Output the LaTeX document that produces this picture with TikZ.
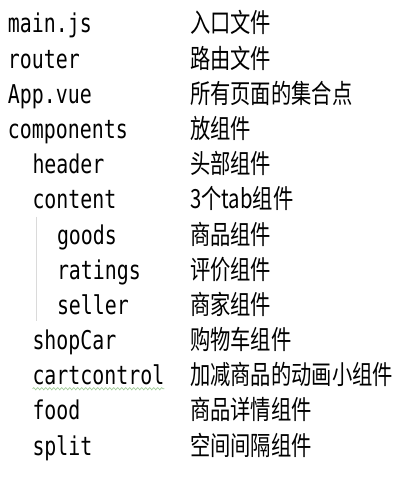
\documentclass[tikz,border=0pt]{standalone}
\usepackage{fontspec}
\usepackage{graphicx}
\setmonofont{DejaVu Sans Mono}
\newfontfamily\cjk{Noto Sans CJK SC}
\usetikzlibrary{positioning, decorations.pathmorphing, backgrounds}
\definecolor{guidegray}{HTML}{DADADA}
\definecolor{squiggle}{HTML}{A4CE9C}
\newcommand\tallmono[1]{\scalebox{1}[1.3]{\fontsize{19.9}{20}\ttfamily #1}}
\newcommand\tallcjk[1]{\scalebox{1}[1.3]{\fontsize{20.3}{20}\cjk #1}}
\tikzset{
  filename/.style={anchor=base west, inner sep=0pt, outer sep=0pt},
  filedesc/.style={anchor=base west, inner sep=0pt, outer sep=0pt},
}

\begin{document}
\begin{tikzpicture}[x=1pt,y=1pt,background rectangle/.style={fill=white},show background rectangle]
  \useasboundingbox (0,0) rectangle (400,500);
  % one row per file: name / indent level / description
  \foreach \fname/\lvl/\desc [count=\i from 0] in {
      main.js/0/入口文件,
      router/0/路由文件,
      App.vue/0/所有页面的集合点,
      components/0/放组件,
      header/1/头部组件,
      content/1/3个tab组件,
      goods/2/商品组件,
      ratings/2/评价组件,
      seller/2/商家组件,
      shopCar/1/购物车组件,
      cartcontrol/1/加减商品的动画小组件,
      food/1/商品详情组件,
      split/1/空间间隔组件}{
    \node[filename] (f\i) at (8+24.5*\lvl, 467-35.17*\i) {\tallmono{\fname}};
    \node[filedesc] (d\i) at (190, 467-35.17*\i) {\tallcjk{\desc}};
  }
  % indent guide of the content folder
  \coordinate (gtop) at (36,283);
  \coordinate (gbot) at (36,179);
  \draw[guidegray, line width=0.8pt] (gtop) -- (gbot);
  % spell check mark under cartcontrol
  \coordinate (wl) at ([yshift=-4pt]f10.base west);
  \coordinate (wr) at ([yshift=-4pt]f10.base east);
  \draw[squiggle, line width=0.7pt, decorate,
        decoration={snake, amplitude=1.1pt, segment length=4pt}] (wl) -- (wr);
\end{tikzpicture}
\end{document}
